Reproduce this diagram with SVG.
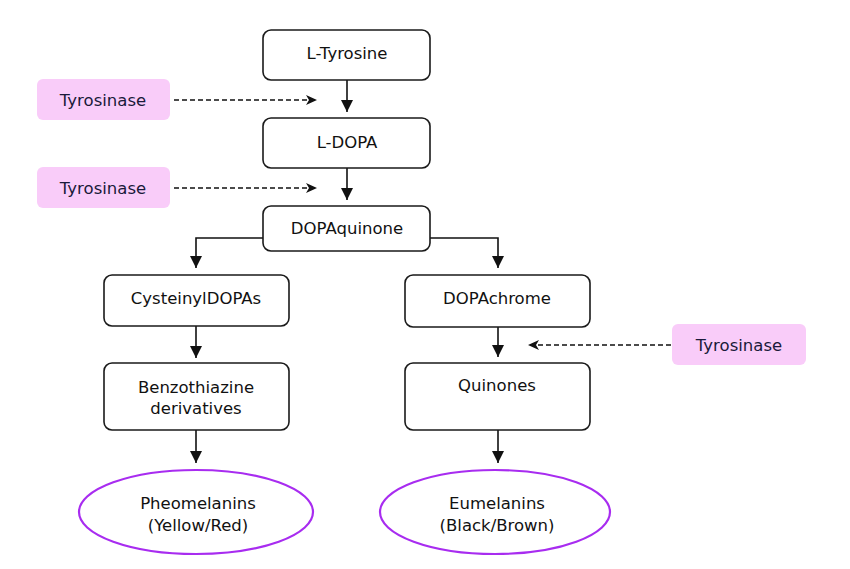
<svg xmlns="http://www.w3.org/2000/svg" width="850" height="569" viewBox="0 0 850 569">
<style>
.box{fill:#fff;stroke:#1a1a1a;stroke-width:1.6}
.enz{fill:#f9ccf9;stroke:none}
.ell{fill:#fff;stroke:#a82cf0;stroke-width:2.2}
.t{font-family:"DejaVu Sans",Verdana,sans-serif;font-size:16.5px;fill:#111;text-anchor:middle}
.te{font-family:"DejaVu Sans",Verdana,sans-serif;font-size:16.5px;fill:#1a1a3a;text-anchor:middle}
.solid{fill:none;stroke:#111;stroke-width:1.6;marker-end:url(#ah)}
.dash{fill:none;stroke:#111;stroke-width:1.4;stroke-dasharray:5 3;marker-end:url(#dh)}
</style>
<defs>
<marker id="ah" markerWidth="12" markerHeight="12" refX="12" refY="6" orient="auto" markerUnits="userSpaceOnUse">
<path d="M0,0 L12,6 L0,12 Z" fill="#111"/>
</marker>
<marker id="dh" markerWidth="12" markerHeight="10" refX="11" refY="5" orient="auto" markerUnits="userSpaceOnUse">
<path d="M0,0 L11,5 L0,10 L3,5 Z" fill="#111"/>
</marker>
</defs>
<g id="connectors">
<path class="solid" d="M347,80 V112"/>
<path class="solid" d="M347,168 V200"/>
<path class="solid" d="M263,238 H196 V268"/>
<path class="solid" d="M430,238 H498 V268"/>
<path class="solid" d="M196,326 V358"/>
<path class="solid" d="M498,327 V357"/>
<path class="solid" d="M196,430 V463"/>
<path class="solid" d="M498,430 V463"/>
<path class="dash" d="M174,100 H317"/>
<path class="dash" d="M174,188 H317"/>
<path class="dash" d="M671,345 H528"/>
</g>
<g id="l-tyrosine"><rect class="box" x="263" y="30" width="167" height="50" rx="8"/><text class="t" x="347" y="59">L-Tyrosine</text></g>
<g id="l-dopa"><rect class="box" x="263" y="118" width="167" height="50" rx="8"/><text class="t" x="347" y="148">L-DOPA</text></g>
<g id="dopaquinone"><rect class="box" x="263" y="206" width="167" height="45" rx="8"/><text class="t" x="347" y="234">DOPAquinone</text></g>
<g id="cysteinyldopas"><rect class="box" x="104" y="275" width="185" height="51" rx="8"/><text class="t" x="196" y="304">CysteinylDOPAs</text></g>
<g id="benzothiazine"><rect class="box" x="104" y="363" width="185" height="67" rx="8"/><text class="t" x="196" y="393">Benzothiazine</text><text class="t" x="196" y="414">derivatives</text></g>
<g id="dopachrome"><rect class="box" x="405" y="275" width="185" height="52" rx="8"/><text class="t" x="497" y="304">DOPAchrome</text></g>
<g id="quinones"><rect class="box" x="405" y="363" width="185" height="67" rx="8"/><text class="t" x="497" y="391">Quinones</text></g>
<g id="pheomelanins"><ellipse class="ell" cx="196" cy="512" rx="117" ry="42"/><text class="t" x="198" y="509">Pheomelanins</text><text class="t" x="198" y="531">(Yellow/Red)</text></g>
<g id="eumelanins"><ellipse class="ell" cx="495" cy="512" rx="115" ry="42"/><text class="t" x="497" y="509">Eumelanins</text><text class="t" x="497" y="531">(Black/Brown)</text></g>
<g id="tyrosinase-1"><rect class="enz" x="37" y="79" width="133" height="41" rx="6"/><text class="te" x="103" y="106">Tyrosinase</text></g>
<g id="tyrosinase-2"><rect class="enz" x="37" y="167" width="133" height="41" rx="6"/><text class="te" x="103" y="194">Tyrosinase</text></g>
<g id="tyrosinase-3"><rect class="enz" x="672" y="324" width="134" height="41" rx="6"/><text class="te" x="739" y="351">Tyrosinase</text></g>
</svg>
